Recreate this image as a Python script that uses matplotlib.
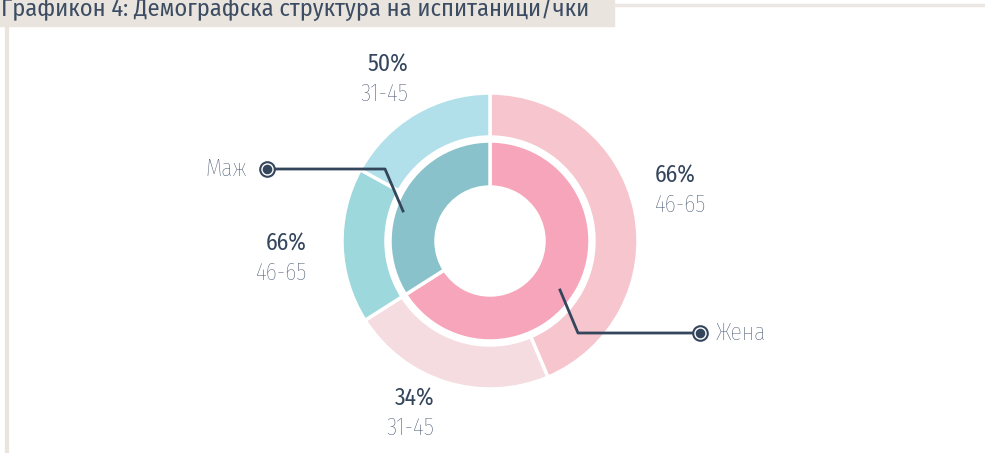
import matplotlib.pyplot as plt
from matplotlib.patches import Rectangle

# data
gender = ["Жена", "Маж"]
gender_share = [66, 34]
age_groups = ["46-65", "31-45", "46-65", "31-45"]
age_share = [43.6, 22.4, 17.0, 17.0]          # share of all respondents
age_labels = ["66%", "34%", "66%", "50%"]     # as printed on the chart

inner_colors = ["#f6a5bb", "#8ac2cc"]
outer_colors = ["#f6c5cd", "#f5dce1", "#9dd8dc", "#b2e0ea"]
dark = "#34465c"
grey = "#42516a"
beige = "#e9e4de"

plt.rcParams['font.family'] = ['Fira Sans Condensed', 'Fira Sans', 'Roboto', 'DejaVu Sans']

W, H = 985, 453
fig = plt.figure(figsize=(W / 100, H / 100), dpi=100)

# donut
cx, cy, R = 490, 241, 150
ax = fig.add_axes([(cx - R) / W, (H - cy - R) / H, 2 * R / W, 2 * R / H])
ax.pie(gender_share, radius=1.0, colors=inner_colors, startangle=90,
       counterclock=False,
       wedgeprops=dict(width=0.46, edgecolor="white", linewidth=2.5))
ax.pie(age_share, radius=1.48, colors=outer_colors, startangle=90,
       counterclock=False,
       wedgeprops=dict(width=0.44, edgecolor="white", linewidth=2.5))
ax.set_xlim(-1.5, 1.5)
ax.set_ylim(-1.5, 1.5)
ax.set_aspect("equal")
ax.axis("off")

# overlay in pixel coords, on top of the donut
ov = fig.add_axes([0, 0, 1, 1])
ov.set_zorder(10)
ov.patch.set_alpha(0)
ov.set_xlim(0, W)
ov.set_ylim(H, 0)
ov.axis("off")

# title box and frame lines
ov.add_patch(Rectangle((0, 0), 614, 26, color=beige, zorder=1))
ov.plot([614, 985], [5, 5], color="#ece7e2", lw=2.5, zorder=1)
ov.plot([6.5, 6.5], [26, 453], color=beige, lw=3, zorder=1)
ov.text(1, 16, "Графикон 4: Демографска структура на испитаници/чки",
        fontsize=17.5, color="#3c4d63", ha="left", va="baseline", zorder=2)

# outer ring labels (pct on top, age group below)
label_pos = [(655, 176, "left"), (434, 399, "right"),
             (307, 244, "right"), (408, 65, "right")]
for (x, y, ha), pct, grp in zip(label_pos, age_labels, age_groups):
    ov.text(x, y, pct, fontsize=17, color=dark,
            ha=ha, va="center", zorder=3)
    ov.text(x, y + 29, grp, fontsize=17, fontweight="light", color=grey,
            ha=ha, va="center", zorder=3)

# leader lines for the inner ring
ov.plot([403, 385, 267], [211, 169, 169], color=dark, lw=2, zorder=3)
ov.plot([560, 578, 700], [290, 333, 333], color=dark, lw=2, zorder=3)
for x, y in [(267, 169), (700, 333)]:
    ov.scatter([x], [y], s=110, facecolor="white", edgecolor=dark, lw=1.5, zorder=4)
    ov.scatter([x], [y], s=35, color=dark, zorder=5)
ov.text(247, 169, gender[1], fontsize=17, fontweight="light", color=grey,
        ha="right", va="center", zorder=3)
ov.text(715, 333, gender[0], fontsize=17, fontweight="light", color=grey,
        ha="left", va="center", zorder=3)

fig.savefig("out.png", dpi=100)
